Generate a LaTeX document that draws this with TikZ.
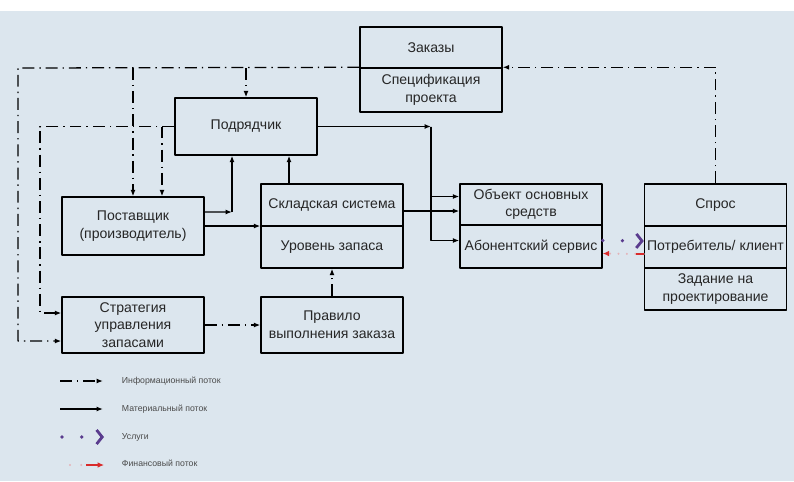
\documentclass[tikz,border=0pt]{standalone}
\usepackage{fontspec}
\setmainfont{Liberation Sans}
\usetikzlibrary{arrows.meta}
\definecolor{bgblue}{HTML}{DCE6EE}
\definecolor{servpurple}{HTML}{5A3C8E}
\definecolor{finred}{HTML}{D92B2B}
\definecolor{finpink}{HTML}{E3B3B8}
\definecolor{legcol}{HTML}{4A4A4A}
\begin{document}
\begin{tikzpicture}[x=0.025cm,y=-0.025cm,font=\fontsize{10}{12.5}\selectfont,line join=round,>={Latex[length=4.5pt,width=3.5pt]}]
	\tikzset{box/.style={draw,line width=1pt,minimum width=3.55cm,inner sep=1pt,align=center,text=black!85},
		info/.style={->,line width=0.9pt,dash pattern=on 8.5pt off 3.5pt on 1pt off 3.5pt},
		mat/.style={->,line width=0.9pt},
		serv/.style={servpurple,line width=2.6pt,line cap=round,dash pattern=on 0pt off 14pt,-{Straight Barb[length=4pt,width=10pt,line width=2pt]}},
		fin/.style={finpink,line width=1.6pt,line cap=round,dash pattern=on 0pt off 6pt,-{Latex[length=4.5pt,width=4pt,finred]}},
		legtext/.style={anchor=west,font=\fontsize{6.2}{7}\selectfont,text=legcol}}
	\useasboundingbox (0,0) rectangle (794,481);
	\fill[bgblue] (0,11) rectangle (794,481);
	% boxes
	\node[box,minimum height=1.025cm] (zak) at (431,47.5) {Заказы};
	\node[box,minimum height=1.1cm] (spec) at (431,90) {Спецификация\\проекта};
	\node[box,minimum height=1.425cm] (podr) at (246,126.5) {Подрядчик};
	\node[box,minimum height=1.45cm] (post) at (133,226) {Поставщик\\(производитель)};
	\node[box,minimum height=1.05cm] (sklad) at (332,205) {Складская система};
	\node[box,minimum height=1.05cm] (uroven) at (332,247) {Уровень запаса};
	\node[box,minimum height=1.025cm] (obj) at (531,204.5) {Объект основных\\средств};
	\node[box,minimum height=1.075cm] (abon) at (531,246.5) {Абонентский сервис};
	\node[box,minimum height=1.05cm] (spros) at (715.5,205) {Спрос};
	\node[box,minimum height=1.05cm] (potr) at (715.5,247) {Потребитель/ клиент};
	\node[box,minimum height=1.05cm] (zad) at (715.5,289) {Задание на\\проектирование};
	\node[box,minimum height=1.4cm] (strat) at (133,325) {Стратегия\\управления\\запасами};
	\node[box,minimum height=1.4cm] (prav) at (332,325) {Правило\\выполнения заказа};
	% information flow
	\coordinate (t1) at (133,68);
	\coordinate (t2) at (246,68);
	\coordinate (t3) at (162,126.5);
	\draw[info] (spec.north west) -- (18,68) |- ([yshift=-0.4cm]strat.west);
	\draw[info] (t1) -- (t1 |- post.north);
	\draw[info] (t2) -- (t2 |- podr.north);
	\draw[info] (podr.west) -- (40,126.5) |- ([yshift=0.3cm]strat.west);
	\draw[info] (t3) -- (t3 |- post.north);
	\draw[info] (spros.north) |- (spec.north east);
	\draw[info] (strat) -- (prav);
	\draw[info] (prav) -- (uroven);
	% material flow
	\coordinate (m1) at (232,212);
	\coordinate (m2) at (431,126.5);
	\coordinate (m3) at (289,184);
	\draw[mat] ([yshift=0.35cm]post.east) -- (m1);
	\draw[mat] (m1) -- (m1 |- podr.south);
	\draw[mat] (post.east) -- (post.east -| sklad.west);
	\draw[mat] (m3) -- (m3 |- podr.south);
	\draw[mat] (podr.east) -- (m2);
	\draw[mat] (m2) |- ([yshift=0.2cm]obj.west);
	\draw[mat] (m2) |- ([yshift=0.15cm]abon.west);
	\draw[mat] ([yshift=-0.15cm]sklad.east) -- ([yshift=-0.15cm]sklad.east -| obj.west);
	% services and finance
	\draw[serv] ([yshift=0.15cm]abon.east) -- ([yshift=0.15cm]potr.west);
	\draw[fin] ([yshift=-0.175cm]potr.west) -- ([yshift=-0.175cm]abon.east);
	\draw[finred,line width=1pt] ([yshift=-0.175cm]potr.west) -- ++(-8,0);
	% legend
	\coordinate (li1) at (60,381); \coordinate (li2) at (103,381);
	\coordinate (lm1) at (60,409); \coordinate (lm2) at (103,409);
	\coordinate (ls1) at (62,437); \coordinate (ls2) at (104,437);
	\coordinate (lf1) at (70,465); \coordinate (lf2) at (86,465); \coordinate (lf3) at (104,465);
	\draw[info] (li1) -- (li2);
	\draw[mat] (lm1) -- (lm2);
	\draw[serv] (ls1) -- (ls2);
	\draw[finpink,line width=1.6pt,line cap=round,dash pattern=on 0pt off 8pt] (lf1) -- (lf2);
	\draw[finred,line width=1pt,-{Latex[length=4.5pt,width=4pt]}] (lf2) -- (lf3);
	\foreach \yy/\nm/\txt in {381/linfo/Информационный поток,409/lmat/Материальный поток,437/lserv/Услуги,463/lfin/Финансовый поток}
	\node[legtext] (\nm) at (117,\yy) {\txt};
\end{tikzpicture}
\end{document}
